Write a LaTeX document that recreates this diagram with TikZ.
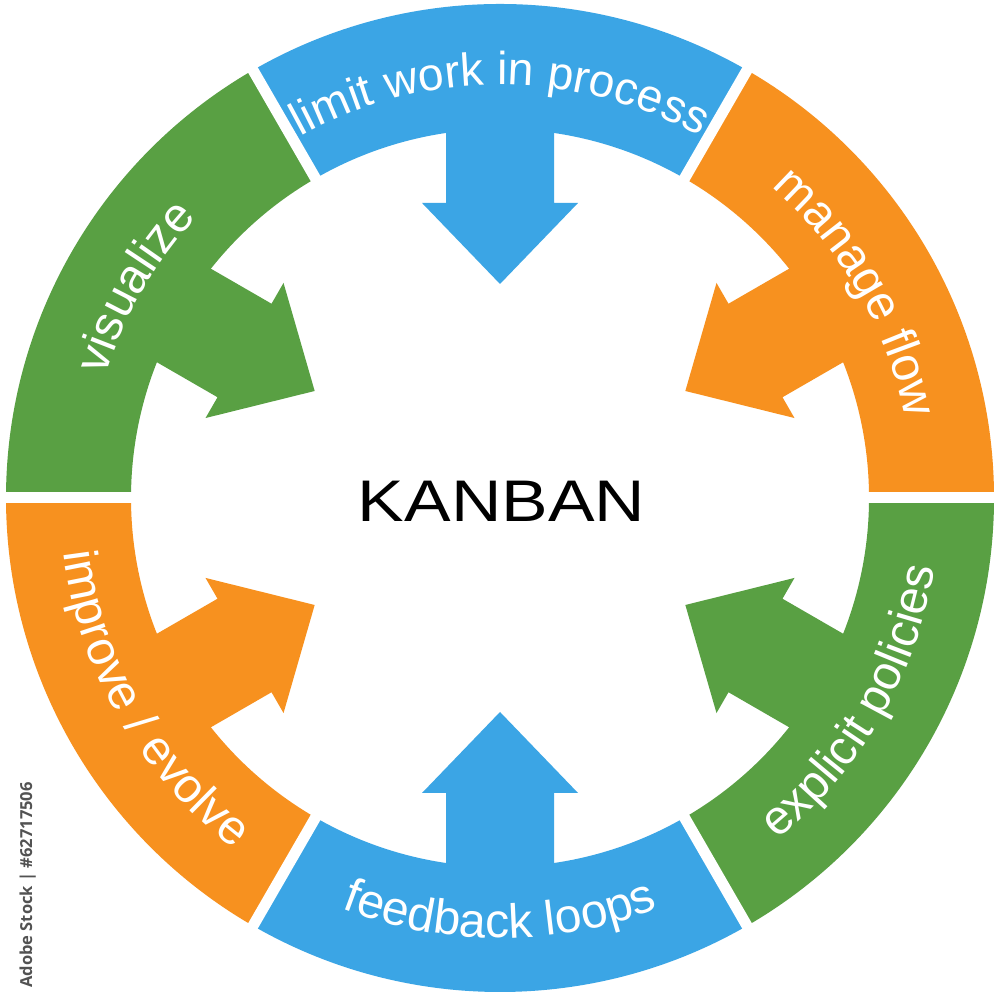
\documentclass[tikz,border=0pt]{standalone}
\usepackage{fontspec}
\setmainfont{Liberation Sans}
\newfontfamily\wmfont{Open Sans}
\usetikzlibrary{decorations.text}
\definecolor{kbblue}{HTML}{3BA5E5}
\definecolor{kborange}{HTML}{F7911F}
\definecolor{kbgreen}{HTML}{59A043}
\tikzset{
  gapline/.style={draw=white, line width=0.11cm},
  arrowshape/.style={fill=#1, draw=none},
  ringseg/.style={fill=#1, draw=none},
}
\newcommand{\ringfont}{\fontsize{13.7pt}{16pt}\selectfont\color{white}}
\newcommand{\topfont}{\fontsize{13.15pt}{16pt}\selectfont\color{white}}
\begin{document}
\begin{tikzpicture}
\useasboundingbox (0,0) rectangle (10,10);
\fill[white] (0,0) rectangle (10,10);
\coordinate (C) at (5,5.02);
\def\Ro{4.94}
\def\Ri{3.69}
% ring segments and inward arrows
\foreach \a/\c in {30/kborange, 90/kbblue, 150/kbgreen, 210/kborange, 270/kbblue, 330/kbgreen}{
  \path[ringseg=\c, shift={(C)}] (\a-30:\Ro) arc[start angle=\a-30, end angle=\a+30, radius=\Ro]
     -- (\a+30:\Ri) arc[start angle=\a+30, end angle=\a-30, radius=\Ri] -- cycle;
  \path[arrowshape=\c, shift={(C)}, rotate=\a] (3.80,0.54) -- (2.95,0.54) -- (2.95,0.78)
     -- (2.14,0) -- (2.95,-0.78) -- (2.95,-0.54) -- (3.80,-0.54) -- cycle;
}
% white gaps
\foreach \g in {0,60,120,180,240,300}{
  \draw[gapline, shift={(C)}] (\g:3.4) -- (\g:5.2);
}
% curved label on the top segment
\path[shift={(C)}, decorate, decoration={text along path, text align=center, text={|\topfont|limit work in process}}]
    (135:4.13) arc[start angle=135, end angle=45, radius=4.13];
% curved labels, upper half (clockwise, tops outward)
\foreach \a/\t in {30/{manage flow}, 150/{visualize}}{
  \path[shift={(C)}, decorate, decoration={text along path, text align=center, text/.expanded={|\noexpand\ringfont|\t}}]
    (\a+45:4.13) arc[start angle=\a+45, end angle=\a-45, radius=4.13];
}
% curved labels, lower half (counter-clockwise, tops inward)
\foreach \a/\t in {270/{feedback loops}, 210/{improve / evolve}, 330/{explicit policies}}{
  \path[shift={(C)}, decorate, decoration={text along path, text align=center, text/.expanded={|\noexpand\ringfont|\t}}]
    (\a-45:4.40) arc[start angle=\a-45, end angle=\a+45, radius=4.40];
}
% centre word
\node[font=\fontsize{16.7pt}{20pt}\selectfont, anchor=base, inner sep=0] (kanban) at (5.015,4.78) {\scalebox{1.19}[1]{KANBAN}};
% stock id
\node[font=\wmfont\bfseries\fontsize{4.7pt}{6pt}\selectfont, text=black!68, rotate=90, anchor=base, inner sep=0] (stockid) at (0.32,1.15) {Adobe Stock | \#62717506};
\end{tikzpicture}
\end{document}
